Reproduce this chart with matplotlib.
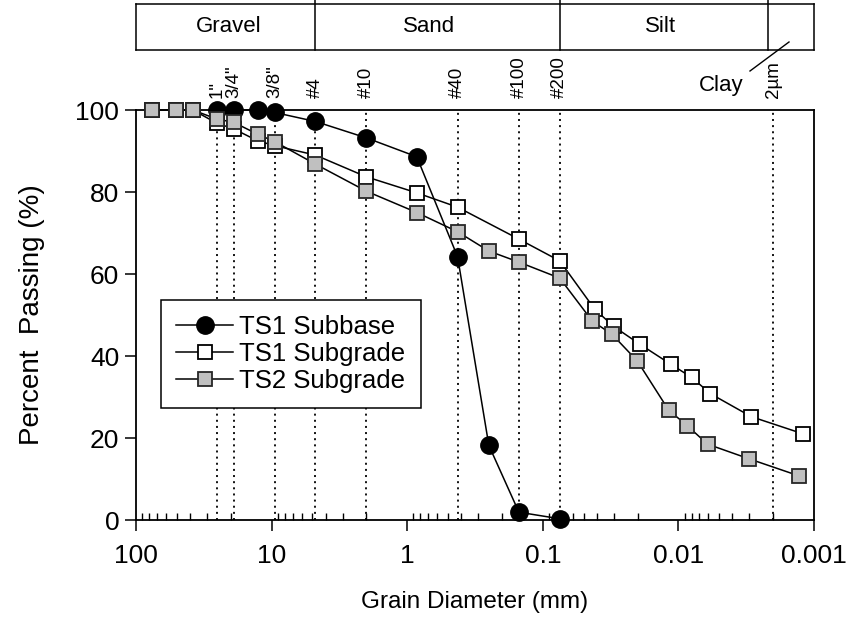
import matplotlib
matplotlib.use("Agg")
import matplotlib.pyplot as plt
from matplotlib.lines import Line2D
from matplotlib import transforms

plt.rcParams['font.family'] = ['Liberation Sans', 'DejaVu Sans']

# Sieve openings (mm) and their labels
sieve_labels = ['1"', '3/4"', '3/8"', '#4', '#10', '#40', '#100', '#200', '2µm']
sieve_sizes = [25.4, 19.05, 9.5, 4.75, 2.0, 0.425, 0.15, 0.075, 0.002]

# Soil classification boundaries (mm)
class_names = ['Gravel', 'Sand', 'Silt']
class_bounds = [4.75, 0.075, 0.0022]

# TS1 Subbase gradation
ts1_subbase_d = [25.4, 19.05, 12.7, 9.5, 4.75, 2.0, 0.85, 0.425, 0.25, 0.15, 0.075]
ts1_subbase_p = [100, 100, 100, 99.4, 97.2, 93.2, 88.6, 64.2, 18.2, 1.9, 0.3]

# TS1 Subgrade gradation (sieve + hydrometer)
ts1_subgrade_d = [76.2, 50.8, 38.1, 25.4, 19.05, 12.7, 9.5, 4.75, 2.0, 0.85, 0.425,
                  0.15, 0.075, 0.0414, 0.0300, 0.0193, 0.0114, 0.0080, 0.0058,
                  0.0029, 0.0012]
ts1_subgrade_p = [100, 100, 100, 96.8, 95.4, 92.5, 91.3, 89.0, 83.7, 79.8, 76.3,
                  68.5, 63.2, 51.4, 47.2, 42.9, 38.0, 34.8, 30.8, 25.2, 21.0]

# TS2 Subgrade gradation (sieve + hydrometer)
ts2_subgrade_d = [76.2, 50.8, 38.1, 25.4, 19.05, 12.7, 9.5, 4.75, 2.0, 0.85, 0.425,
                  0.25, 0.15, 0.075, 0.0431, 0.0309, 0.0201, 0.0118, 0.0086, 0.0061,
                  0.0030, 0.0013]
ts2_subgrade_p = [100, 100, 100, 97.8, 97.0, 94.1, 92.3, 86.8, 80.2, 75.0, 70.3,
                  65.6, 62.9, 59.0, 48.5, 45.3, 38.8, 26.8, 23.0, 18.5, 14.9, 10.8]

W, H = 852, 634
fig = plt.figure(figsize=(W / 100, H / 100), dpi=100)
ax = fig.add_axes([136 / W, 1 - 520 / H, 678 / W, 410 / H])

xlim = (100, 0.001)

# Sieve reference lines
for d in sieve_sizes:
    ax.axvline(d, color='black', lw=1.3, ls=(0, (1.1, 2.3)), zorder=1)

ax.plot(ts1_subbase_d, ts1_subbase_p, color='black', lw=1.1, marker='o',
        ms=12.5, mfc='black', mec='black', mew=1.0, label='TS1 Subbase',
        clip_on=False, zorder=3)
ax.plot(ts1_subgrade_d, ts1_subgrade_p, color='black', lw=1.1, marker='s',
        ms=10, mfc='white', mec='black', mew=1.3, label='TS1 Subgrade',
        clip_on=False, zorder=3)
ax.plot(ts2_subgrade_d, ts2_subgrade_p, color='black', lw=1.1, marker='s',
        ms=10, mfc='#c0c0c0', mec='#262626', mew=1.3, label='TS2 Subgrade',
        clip_on=False, zorder=3)

ax.set_xscale('log')
ax.set_xlim(*xlim)
ax.set_ylim(0, 100)
ax.set_yticks([0, 20, 40, 60, 80, 100])
ax.set_xticks([100, 10, 1, 0.1, 0.01, 0.001])
ax.set_xticklabels(['100', '10', '1', '0.1', '0.01', '0.001'])
ax.tick_params(axis='both', which='major', direction='out', length=8, width=1.1,
               labelsize=19, colors='black')
ax.tick_params(axis='x', which='major', pad=9)
ax.tick_params(axis='y', which='major', pad=4)
ax.tick_params(axis='x', which='minor', direction='in', length=5, width=1.0)
for s in ax.spines.values():
    s.set_linewidth(1.3)

ax.set_xlabel('Grain Diameter (mm)', fontsize=17.5, labelpad=17)
ax.set_ylabel('Percent  Passing (%)', fontsize=20, labelpad=22)

leg = ax.legend(loc='upper left', bbox_to_anchor=(161 / W, 1 - 300 / H),
                bbox_transform=fig.transFigure, borderaxespad=0, fontsize=18.5,
                frameon=True, fancybox=False, edgecolor='black', framealpha=1,
                handlelength=2.2, handletextpad=0.25, labelspacing=0.1,
                borderpad=0.6)
leg.get_frame().set_linewidth(1.1)

# Sieve labels above the plot
trans = transforms.blended_transform_factory(ax.transData, ax.transAxes)
for lab, d in zip(sieve_labels, sieve_sizes):
    ax.text(d, 1.03, lab, transform=trans, rotation=90, ha='center', va='bottom',
            fontsize=13.5)

# Classification band
bx = fig.add_axes([136 / W, 1 - 50 / H, 678 / W, 46 / H])
bx.set_xscale('log')
bx.set_xlim(*xlim)
bx.set_ylim(0, 1)
bx.set_xticks([])
bx.set_yticks([])
bx.minorticks_off()
for s in bx.spines.values():
    s.set_linewidth(1.1)
for b in class_bounds:
    bx.plot([b, b], [0, 1.2], color='black', lw=1.1, clip_on=False)
for name, xf in zip(class_names, [0.136, 0.432, 0.774]):
    bx.text(xf, 0.5, name, transform=bx.transAxes, ha='center', va='center',
            fontsize=16)

fig.text(721 / W, 1 - 86 / H, 'Clay', ha='center', va='center', fontsize=16)
fig.add_artist(Line2D([750 / W, 789 / W], [1 - 71 / H, 1 - 42 / H],
                      transform=fig.transFigure, color='black', lw=1.0))

fig.savefig('out.png', dpi=100)
